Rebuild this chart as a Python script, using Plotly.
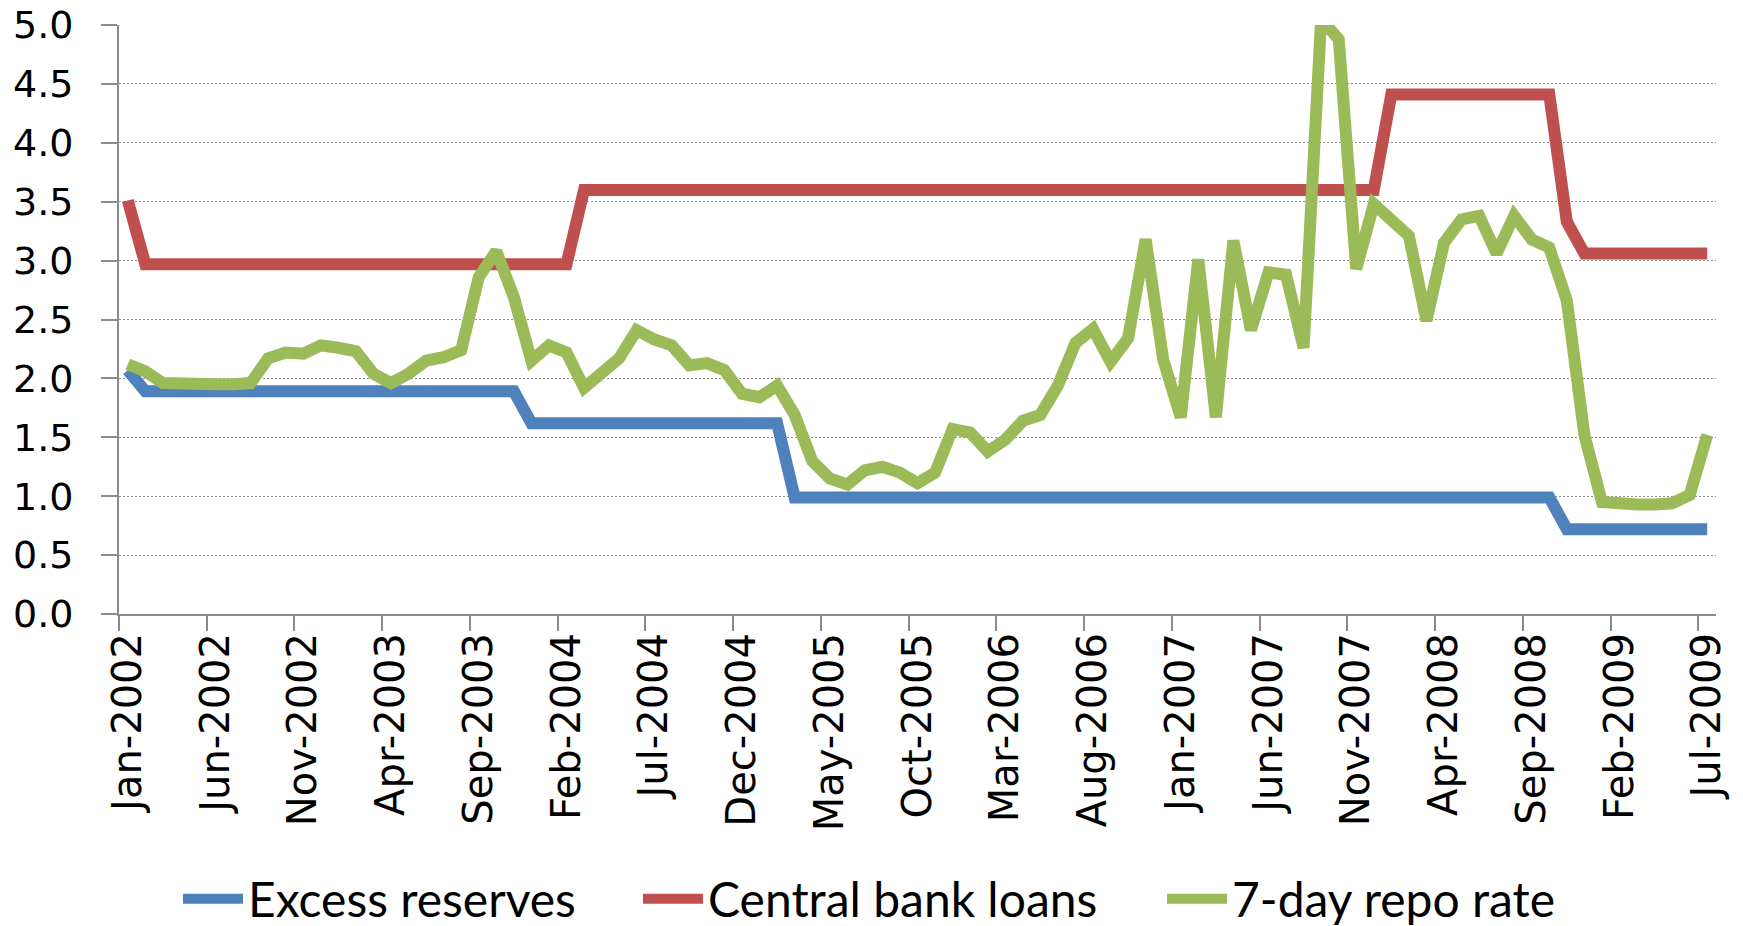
import plotly.graph_objects as go

# 91 monthly categories, Jan-2002 .. Jul-2009
months = [f"{m}-{y}" for y in range(2002, 2010)
          for m in ["Jan", "Feb", "Mar", "Apr", "May", "Jun",
                    "Jul", "Aug", "Sep", "Oct", "Nov", "Dec"]][:91]

tick_labels = ["Jan-2002", "Jun-2002", "Nov-2002", "Apr-2003", "Sep-2003",
               "Feb-2004", "Jul-2004", "Dec-2004", "May-2005", "Oct-2005",
               "Mar-2006", "Aug-2006", "Jan-2007", "Jun-2007", "Nov-2007",
               "Apr-2008", "Sep-2008", "Feb-2009", "Jul-2009"]

excess_reserves = [
    2.07, 1.89, 1.89, 1.89, 1.89, 1.89, 1.89, 1.89, 1.89, 1.89,
    1.89, 1.89, 1.89, 1.89, 1.89, 1.89, 1.89, 1.89, 1.89, 1.89,
    1.89, 1.89, 1.89, 1.62, 1.62, 1.62, 1.62, 1.62, 1.62, 1.62,
    1.62, 1.62, 1.62, 1.62, 1.62, 1.62, 1.62, 1.62, 0.99, 0.99,
    0.99, 0.99, 0.99, 0.99, 0.99, 0.99, 0.99, 0.99, 0.99, 0.99,
    0.99, 0.99, 0.99, 0.99, 0.99, 0.99, 0.99, 0.99, 0.99, 0.99,
    0.99, 0.99, 0.99, 0.99, 0.99, 0.99, 0.99, 0.99, 0.99, 0.99,
    0.99, 0.99, 0.99, 0.99, 0.99, 0.99, 0.99, 0.99, 0.99, 0.99,
    0.99, 0.99, 0.72, 0.72, 0.72, 0.72, 0.72, 0.72, 0.72, 0.72,
    0.72]

central_bank_loans = [
    3.51, 2.97, 2.97, 2.97, 2.97, 2.97, 2.97, 2.97, 2.97, 2.97,
    2.97, 2.97, 2.97, 2.97, 2.97, 2.97, 2.97, 2.97, 2.97, 2.97,
    2.97, 2.97, 2.97, 2.97, 2.97, 2.97, 3.60, 3.60, 3.60, 3.60,
    3.60, 3.60, 3.60, 3.60, 3.60, 3.60, 3.60, 3.60, 3.60, 3.60,
    3.60, 3.60, 3.60, 3.60, 3.60, 3.60, 3.60, 3.60, 3.60, 3.60,
    3.60, 3.60, 3.60, 3.60, 3.60, 3.60, 3.60, 3.60, 3.60, 3.60,
    3.60, 3.60, 3.60, 3.60, 3.60, 3.60, 3.60, 3.60, 3.60, 3.60,
    3.60, 3.60, 4.41, 4.41, 4.41, 4.41, 4.41, 4.41, 4.41, 4.41,
    4.41, 4.41, 3.33, 3.06, 3.06, 3.06, 3.06, 3.06, 3.06, 3.06,
    3.06]

repo_7day = [
    2.12, 2.06, 1.96, 1.95, 1.95, 1.95, 1.95, 1.96, 2.17, 2.22,
    2.21, 2.28, 2.26, 2.23, 2.04, 1.96, 2.04, 2.15, 2.18, 2.24,
    2.86, 3.08, 2.69, 2.15, 2.28, 2.22, 1.92, 2.06, 2.17, 2.41,
    2.33, 2.28, 2.11, 2.13, 2.07, 1.87, 1.84, 1.94, 1.69, 1.30,
    1.15, 1.10, 1.22, 1.25, 1.20, 1.11, 1.20, 1.57, 1.54, 1.38,
    1.48, 1.64, 1.69, 1.94, 2.30, 2.42, 2.14, 2.34, 3.18, 2.16,
    1.67, 3.01, 1.67, 3.17, 2.41, 2.90, 2.88, 2.26, 5.05, 4.88,
    2.93, 3.48, 3.35, 3.21, 2.49, 3.15, 3.35, 3.38, 3.06, 3.38,
    3.18, 3.11, 2.66, 1.52, 0.95, 0.93, 0.93, 0.93, 0.94, 1.01,
    1.52]

x_idx = list(range(len(months)))
tick_pos = [months.index(t) - 0.5 for t in tick_labels]  # category boundaries

series = [
    ("Excess reserves", excess_reserves, "#4F81BD", 385),
    ("Central bank loans", central_bank_loans, "#C0504D", 449),
    ("7-day repo rate", repo_7day, "#9BBB59", 335),
]

LEG_FONT = "Lato, Carlito, Calibri, sans-serif"
TICK_FONT = "DejaVu Sans, Verdana, sans-serif"

fig = go.Figure()
for name, vals, col, lw in series:
    fig.add_trace(go.Scatter(
        x=x_idx, y=vals, name=name, mode="lines",
        line=dict(color=col, width=12),
        legendwidth=lw,
        text=months, hovertemplate="%{text}: %{y:.2f}<extra>" + name + "</extra>",
    ))

fig.update_layout(
    width=1743, height=926,
    margin=dict(l=119, r=27, t=25, b=312, autoexpand=False),
    paper_bgcolor="white", plot_bgcolor="white",
    font=dict(family=LEG_FONT, color="black"),
    showlegend=True,
    legend=dict(
        orientation="h", xref="container", yref="container",
        x=178 / 1743, xanchor="left", y=0.0291, yanchor="middle",
        font=dict(family=LEG_FONT, size=48, color="black"),
        itemwidth=60, tracegroupgap=0,
        bgcolor="rgba(0,0,0,0)",
    ),
)

fig.update_xaxes(
    automargin=False,
    range=[-0.5, len(months) - 0.5],
    tickmode="array", tickvals=tick_pos, ticktext=tick_labels,
    ticklabelshift=9, ticklabelstandoff=-14,
    tickangle=-90,
    ticks="outside", ticklen=15, tickwidth=2, tickcolor="#8c8c8c",
    showline=True, linecolor="#8c8c8c", linewidth=2,
    showgrid=False, zeroline=False,
    tickfont=dict(family=TICK_FONT, size=40, color="black"),
)

fig.update_yaxes(
    automargin=False,
    range=[0, 5], tickmode="linear", tick0=0, dtick=0.5, tickformat=".1f",
    ticks="outside", ticklen=16, tickwidth=2, tickcolor="#8c8c8c",
    ticklabelstandoff=20,
    showline=True, linecolor="#8c8c8c", linewidth=2,
    showgrid=True, gridcolor="#8f8f8f", gridwidth=1, griddash="2px,2px",
    zeroline=False,
    tickfont=dict(family=TICK_FONT, size=38, color="black"),
)

fig.write_html("out.html", config={"displayModeBar": False},
               post_script="document.body.style.margin='0';")
